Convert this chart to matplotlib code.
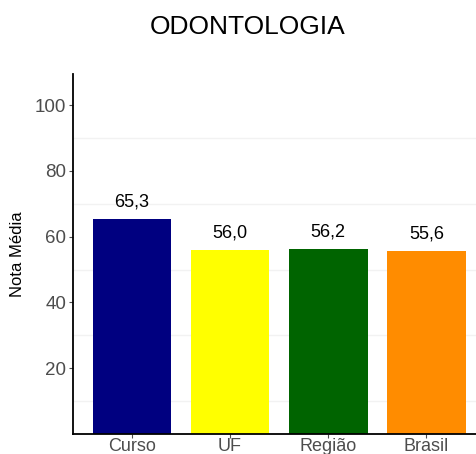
import matplotlib
matplotlib.use("Agg")
import matplotlib.pyplot as plt

categories = ["Curso", "UF", "Região", "Brasil"]
values = [65.3, 56.0, 56.2, 55.6]
labels = ["65,3", "56,0", "56,2", "55,6"]
colors = ["#000080", "#FFFF00", "#006400", "#FF8C00"]
yticks = [20, 40, 60, 80, 100]

plt.rcParams['font.family'] = ['Liberation Sans', 'DejaVu Sans']

fig = plt.figure(figsize=(4.77, 4.54), dpi=100)
ax = fig.add_axes([73/477, 1 - 434/454, (477 - 73)/477, (434 - 74)/454])

x = list(range(len(categories)))
for yv in [10, 30, 50, 70, 90, 110]:
    ax.axhline(yv, color="#f2f2f2", lw=1.0, zorder=0)
for yv in yticks:
    ax.axhline(yv, color="#ffffff", lw=1.0, zorder=0)

ax.bar(x, values, width=0.8, color=colors, zorder=2)
for xi, v, lab in zip(x, values, labels):
    ax.annotate(lab, (xi, v), xytext=(0, 6), textcoords="offset points",
                ha="center", va="bottom", fontsize=13, color="black")

ax.set_xlim(-0.6, 3.515)
ax.set_ylim(0, 109.5)
ax.set_yticks(yticks)
ax.set_xticks(x)
ax.set_xticklabels(categories)
ax.tick_params(axis="y", colors="#4d4d4d", labelsize=13.5, length=3, width=0.8, pad=2)
ax.tick_params(axis="x", colors="#4d4d4d", labelsize=13, length=3, width=0.8, pad=0)
for s in ["top", "right"]:
    ax.spines[s].set_visible(False)
for s in ["left", "bottom"]:
    ax.spines[s].set_linewidth(1.3)
    ax.spines[s].set_color("black")
ax.set_ylabel("Nota Média", fontsize=12, color="black", labelpad=7)
fig.text(248/477, 1 - 27/454, "ODONTOLOGIA", ha="center", va="center", fontsize=19, color="black")

fig.savefig("out.png", dpi=100)
